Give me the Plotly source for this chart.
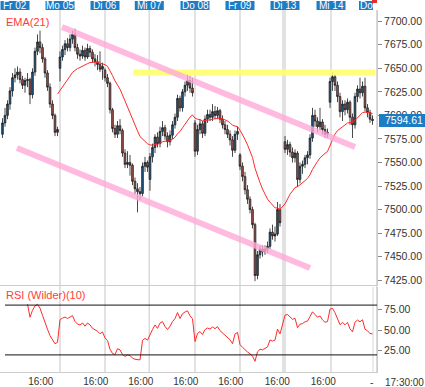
import plotly.graph_objects as go
import numpy as np

# ---------------- data ----------------
bar_slot = list(range(1, 113)) + list(range(114, 150))   # bar slots, Mo 12 gap at 113

opens = [7580, 7592, 7600, 7612, 7626, 7640, 7643, 7646, 7638, 7632, 7637, 7638, 7622, 7646, 7668, 7678, 7672, 7660, 7645, 7630, 7612, 7600, 7582,
         7650, 7662, 7670, 7676, 7672, 7681, 7686, 7672, 7665, 7663, 7669, 7662, 7671, 7667, 7660, 7657, 7654, 7649,
         7648, 7640, 7634, 7606, 7586, 7580, 7589, 7584, 7560, 7548, 7550, 7547, 7530, 7522, 7519, 7517, 7546, 7550,
         7532, 7556, 7566, 7577, 7570, 7583, 7587, 7578, 7572, 7579, 7590, 7598, 7618, 7608, 7625, 7632, 7637, 7629,
         7592, 7562, 7585, 7591, 7581, 7596, 7601, 7598, 7604, 7600, 7605, 7596, 7590, 7585, 7580, 7574, 7563, 7580,
         7558, 7546, 7535, 7521, 7511, 7500, 7484, 7430, 7452, 7458, 7455, 7458, 7461, 7476, 7472, 7474, 7500,
         7572, 7564, 7569, 7561, 7555, 7560, 7532, 7546, 7548, 7555, 7558, 7576, 7600, 7594, 7588, 7593, 7585, 7580,
         7614, 7636, 7641, 7632, 7620, 7604, 7612, 7606, 7614, 7598, 7590, 7620, 7628, 7624, 7631, 7608, 7603, 7596]
highs = [7597, 7608, 7616, 7630, 7645, 7650, 7652, 7650, 7642, 7640, 7645, 7640, 7650, 7672, 7686, 7690, 7676, 7662, 7648, 7634, 7616, 7602, 7588,
         7668, 7674, 7680, 7682, 7686, 7690, 7692, 7676, 7670, 7674, 7672, 7676, 7674, 7670, 7665, 7664, 7668, 7656,
         7650, 7644, 7636, 7608, 7590, 7594, 7596, 7586, 7564, 7562, 7558, 7549, 7534, 7528, 7524, 7550, 7556, 7552,
         7560, 7570, 7580, 7582, 7588, 7594, 7590, 7582, 7584, 7594, 7602, 7622, 7621, 7628, 7636, 7644, 7642, 7640,
         7595, 7590, 7596, 7594, 7600, 7606, 7606, 7612, 7610, 7609, 7607, 7600, 7594, 7590, 7584, 7578, 7584, 7588,
         7560, 7550, 7540, 7526, 7514, 7503, 7486, 7456, 7462, 7462, 7462, 7466, 7480, 7484, 7482, 7508, 7506,
         7578, 7574, 7572, 7566, 7564, 7562, 7550, 7552, 7558, 7562, 7580, 7608, 7606, 7598, 7608, 7596, 7590, 7586,
         7640, 7646, 7644, 7636, 7624, 7616, 7616, 7618, 7616, 7602, 7624, 7632, 7640, 7636, 7640, 7612, 7606, 7600]
lows = [7576, 7588, 7596, 7606, 7620, 7635, 7638, 7634, 7628, 7624, 7630, 7612, 7618, 7642, 7664, 7666, 7656, 7640, 7626, 7608, 7596, 7578, 7578,
        7636, 7658, 7664, 7668, 7668, 7676, 7668, 7660, 7658, 7660, 7658, 7660, 7662, 7656, 7652, 7648, 7646, 7638,
        7636, 7630, 7602, 7582, 7576, 7576, 7580, 7556, 7544, 7544, 7536, 7526, 7516, 7497, 7510, 7514, 7540, 7540,
        7520, 7550, 7560, 7566, 7566, 7578, 7574, 7566, 7568, 7575, 7586, 7594, 7604, 7604, 7620, 7626, 7624, 7620,
        7556, 7558, 7580, 7576, 7578, 7592, 7594, 7594, 7596, 7596, 7592, 7586, 7580, 7576, 7568, 7556, 7560, 7574,
        7542, 7530, 7516, 7506, 7496, 7480, 7424, 7426, 7448, 7450, 7452, 7454, 7458, 7468, 7466, 7472, 7482,
        7560, 7558, 7556, 7550, 7550, 7524, 7528, 7538, 7544, 7548, 7554, 7572, 7588, 7582, 7584, 7580, 7576, 7576,
        7608, 7626, 7626, 7614, 7598, 7594, 7600, 7602, 7590, 7576, 7586, 7614, 7618, 7620, 7604, 7598, 7592, 7590]
closes = [7592, 7600, 7612, 7626, 7640, 7643, 7646, 7638, 7632, 7637, 7638, 7622, 7646, 7668, 7678, 7672, 7660, 7645, 7630, 7612, 7600, 7582, 7585,
          7662, 7670, 7676, 7672, 7681, 7686, 7672, 7665, 7663, 7669, 7662, 7671, 7667, 7660, 7657, 7654, 7649, 7652,
          7640, 7634, 7606, 7586, 7580, 7589, 7584, 7560, 7548, 7550, 7547, 7530, 7522, 7519, 7517, 7546, 7550, 7545,
          7556, 7566, 7577, 7570, 7583, 7587, 7578, 7572, 7579, 7590, 7598, 7618, 7608, 7625, 7632, 7637, 7629, 7624,
          7562, 7585, 7591, 7581, 7596, 7601, 7598, 7604, 7600, 7605, 7596, 7590, 7585, 7580, 7574, 7563, 7580, 7583,
          7546, 7535, 7521, 7511, 7500, 7484, 7430, 7452, 7458, 7455, 7458, 7461, 7476, 7472, 7474, 7500, 7486,
          7564, 7569, 7561, 7555, 7560, 7532, 7546, 7548, 7555, 7558, 7576, 7600, 7594, 7588, 7593, 7585, 7580, 7582,
          7636, 7641, 7632, 7620, 7604, 7612, 7606, 7614, 7598, 7590, 7620, 7628, 7624, 7631, 7608, 7603, 7596, 7594.61]

last_price_text = "7594.61"

day_labels = ["Fr 02", "Mo 05", "Di 06", "Mi 07", "Do 08", "Fr 09", "Di 13", "Mi 14", "Do"]
day_starts = [None, 24, 42, 59.7, 78, 96, 114, 132.4, 150.7]     # slot where each day begins
extra_day_lines = [113.2]                                       # Mo 12 (label hidden)

time_tick_slots = [16.3, 38.3, 56.3, 74.3, 92.3, 110.9, 129.3]
time_tick_text = ["16:00"] * 7

upper_channel_x = [24.8, 142.0]
upper_channel_y = [7693.8, 7566.4]
lower_channel_x = [6.8, 124.0]
lower_channel_y = [7565.4, 7438.0]
resist_x = [53.3, 150.0]
resist_y = [7645.5, 7645.5]

ema_period = 21
rsi_period = 10
rsi_levels = [80, 20]

# ---------------- indicators ----------------
c = np.array(closes, dtype=float)
alpha = 2.0 / (ema_period + 1)
ema = [c[0]]
for v in c[1:]:
    ema.append(ema[-1] + alpha * (v - ema[-1]))
ema = np.array(ema)
ema_from = ema_period + 1

d = np.diff(c)
g = np.where(d > 0, d, 0.0)
l = np.where(d < 0, -d, 0.0)
ag = g[:rsi_period].mean()
al = l[:rsi_period].mean()
rsi = [100 - 100 / (1 + ag / al) if al > 0 else 100]
for k in range(rsi_period, len(d)):
    ag = (ag * (rsi_period - 1) + g[k]) / rsi_period
    al = (al * (rsi_period - 1) + l[k]) / rsi_period
    rsi.append(100 - 100 / (1 + ag / al) if al > 0 else 100)
rsi_x = bar_slot[rsi_period:]

# ---------------- layout helpers ----------------
W, H = 425, 387
ML, MR, MT, MB = 0, 48, 10, 15
PW, PH = W - ML - MR, H - MT - MB
def xp(px):
    return (px - ML) / PW
def yp(py):
    return (H - MB - py) / PH

FONT = "Liberation Sans, Arial, sans-serif"
BLUE = "#1c7cc4"
XR = [0, 150.8]
TICKFONT = dict(family=FONT, size=10.5, color="#333")

fig = go.Figure()

fig.add_trace(go.Candlestick(
    x=bar_slot, open=opens, high=highs, low=lows, close=closes,
    increasing=dict(fillcolor="#1d5a8c", line=dict(color="#1a1a1a", width=0.8)),
    decreasing=dict(fillcolor="#ad564d", line=dict(color="#1a1a1a", width=0.8)),
    whiskerwidth=0, xaxis="x", yaxis="y", showlegend=False, hoverinfo="skip"))

fig.add_trace(go.Scatter(x=bar_slot[ema_from:], y=ema[ema_from:], mode="lines",
                         line=dict(color="#ff2a2a", width=1), xaxis="x", yaxis="y",
                         showlegend=False, hoverinfo="skip"))

fig.add_trace(go.Scatter(x=resist_x, y=resist_y, mode="lines",
                         line=dict(color="rgba(255,255,110,0.9)", width=6),
                         xaxis="x", yaxis="y", showlegend=False, hoverinfo="skip"))
for xs, ys in [(upper_channel_x, upper_channel_y), (lower_channel_x, lower_channel_y)]:
    fig.add_trace(go.Scatter(x=xs, y=ys, mode="lines",
                             line=dict(color="rgba(255,170,215,0.8)", width=6),
                             xaxis="x", yaxis="y", showlegend=False, hoverinfo="skip"))

fig.add_trace(go.Scatter(x=rsi_x, y=rsi, mode="lines", line=dict(color="#ff2a2a", width=1),
                         xaxis="x2", yaxis="y2", showlegend=False, hoverinfo="skip"))

shapes = []
for s in [ds for ds in day_starts if ds is not None] + extra_day_lines:
    shapes.append(dict(type="line", xref="x", yref="paper", x0=s, x1=s, y0=0, y1=1,
                       line=dict(color="#d9d9d9", width=1.5), layer="below"))
for lv in rsi_levels:
    shapes.append(dict(type="line", xref="paper", yref="y2", x0=xp(5), x1=1, y0=lv, y1=lv,
                       line=dict(color="#111111", width=1)))
shapes.append(dict(type="line", xref="paper", yref="paper", x0=xp(373), x1=xp(373), y0=0, y1=yp(287),
                   line=dict(color="#d9d9d9", width=1), layer="below"))

annotations = []
centers_px = [15, 60, 105, 149.3, 195, 240, 285, 331, 366]
for lab, cx in zip(day_labels, centers_px):
    half = 14.5 if lab != "Do" else 7
    x0, x1 = max(0, cx - half), min(373, cx + half)
    shapes.append(dict(type="rect", xref="paper", yref="paper", x0=xp(x0), x1=xp(x1),
                       y0=yp(10), y1=yp(1), fillcolor=BLUE, line=dict(width=0), layer="above"))
    annotations.append(dict(text=lab, xref="paper", yref="paper", x=xp((x0 + x1) / 2), y=yp(5.5),
                            xanchor="center", yanchor="middle", showarrow=False,
                            font=dict(family=FONT, size=10, color="white")))
shapes.append(dict(type="rect", xref="paper", yref="paper", x0=xp(372), x1=xp(377),
                   y0=yp(3), y1=yp(0), fillcolor="#e03030", line=dict(width=0)))

annotations.append(dict(text="EMA(21)", xref="paper", yref="paper", x=xp(4), y=yp(22),
                        xanchor="left", yanchor="middle", showarrow=False,
                        font=dict(family=FONT, size=11, color="#ff3b3b")))
annotations.append(dict(text="RSI (Wilder)(10)", xref="paper", yref="paper", x=xp(4), y=yp(295),
                        xanchor="left", yanchor="middle", showarrow=False,
                        font=dict(family=FONT, size=11, color="#ff3b3b")))
shapes.append(dict(type="rect", xref="paper", yref="paper", x0=xp(379), x1=xp(425),
                   y0=yp(127), y1=yp(114), fillcolor=BLUE, line=dict(width=0)))
annotations.append(dict(text=last_price_text, xref="paper", yref="paper", x=xp(383), y=yp(120.5),
                        xanchor="left", yanchor="middle", showarrow=False,
                        font=dict(family=FONT, size=10.5, color="white")))
annotations.append(dict(text="-", xref="paper", yref="paper", x=xp(372), y=yp(382),
                        xanchor="center", yanchor="middle", showarrow=False,
                        font=dict(family=FONT, size=10.5, color="#333")))
annotations.append(dict(text="17:30:00", xref="paper", yref="paper", x=xp(383), y=yp(382),
                        xanchor="left", yanchor="middle", showarrow=False,
                        font=dict(family=FONT, size=10, color="#333")))

price_ticks = list(range(7425, 7701, 25))
rsi_ticks = [25, 50, 75]

fig.update_layout(
    width=W, height=H, margin=dict(l=ML, r=MR, t=MT, b=MB),
    paper_bgcolor="white", plot_bgcolor="white",
    font=dict(family=FONT, size=11, color="#333"),
    boxgap=0.05,
    xaxis=dict(domain=[0, 1], range=XR, showgrid=False, zeroline=False, showticklabels=False,
               showline=True, linecolor="#cccccc", rangeslider=dict(visible=False), anchor="y", fixedrange=True),
    yaxis=dict(domain=[yp(285), 1], range=[7419.9, 7711.9], side="right", showgrid=False, zeroline=False,
               tickvals=price_ticks, ticktext=[f"{v:.2f}" for v in price_ticks], tickfont=TICKFONT,
               ticks="outside", ticklen=4, tickcolor="#888", showline=True, linecolor="#cccccc",
               anchor="x"),
    xaxis2=dict(domain=[0, 1], range=XR, showgrid=False, zeroline=False, anchor="y2",
                tickvals=time_tick_slots, ticktext=time_tick_text, ticks="",
                tickfont=dict(family=FONT, size=10, color="#333"),
                showline=True, linecolor="#cccccc"),
    yaxis2=dict(domain=[0, yp(287)], range=[-0.6, 101.8], side="right", showgrid=False, zeroline=False,
                tickvals=rsi_ticks, ticktext=[f"{v:.2f}" for v in rsi_ticks], tickfont=TICKFONT,
                ticks="outside", ticklen=4, tickcolor="#888", showline=True, linecolor="#cccccc",
                anchor="x2"),
    shapes=shapes, annotations=annotations, showlegend=False,
)

fig.write_html("out.html", config={"displayModeBar": False},
               post_script="document.body.style.margin='0';document.body.style.padding='0';"
                           "window.dispatchEvent(new Event('resize'));")
